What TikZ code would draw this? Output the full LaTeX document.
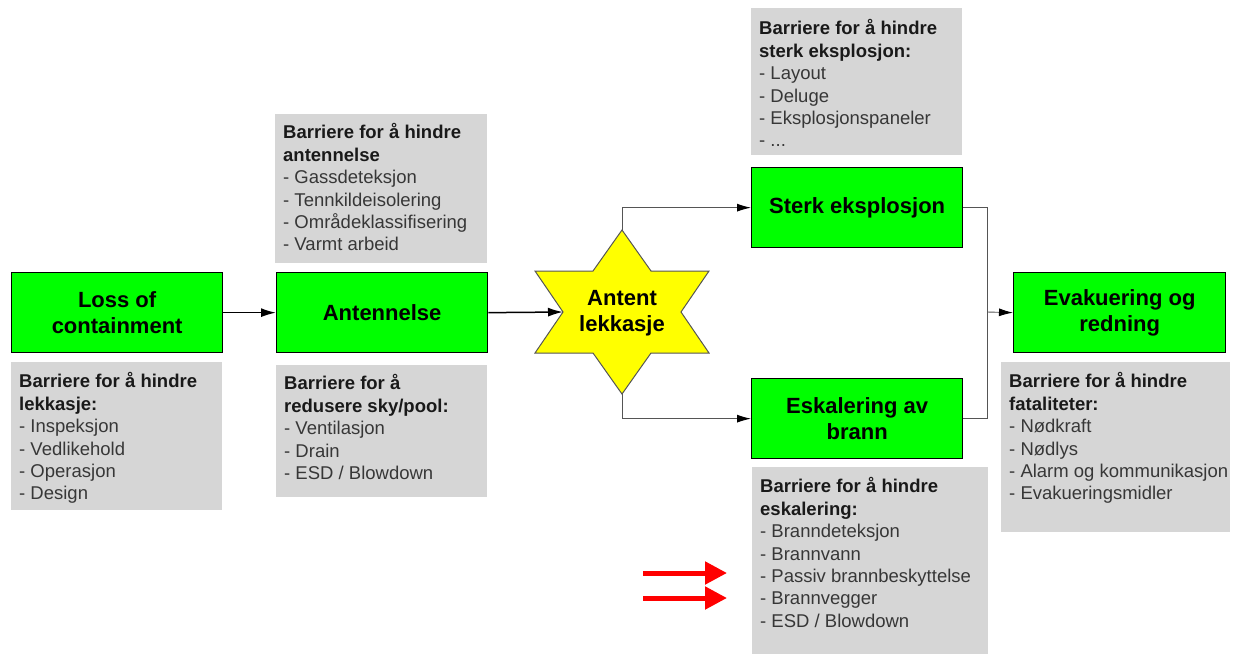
\documentclass[tikz,border=0pt]{standalone}
\usepackage{fontspec}
\setmainfont{Liberation Sans}
\usetikzlibrary{arrows.meta}
\definecolor{boxgreen}{RGB}{0,255,0}
\definecolor{barriergray}{RGB}{214,214,214}
\definecolor{staryellow}{RGB}{255,255,0}
\definecolor{itemgray}{RGB}{55,55,55}
\definecolor{headgray}{RGB}{25,25,25}
\definecolor{linkgray}{RGB}{85,85,85}
\definecolor{alertred}{RGB}{255,0,0}

\begin{document}
\begin{tikzpicture}[x=1pt,y=-1pt,
  event/.style={draw=black, line width=1.3pt, fill=boxgreen,
    minimum width=211pt, minimum height=80pt, inner sep=0pt,
    align=center, font=\fontsize{22}{26}\selectfont\bfseries, anchor=north west},
  barrier/.style={fill=barriergray, inner sep=0pt, anchor=north west},
  barriertext/.style={anchor=north west, inner sep=0pt, align=left,
    font=\fontsize{18.5}{22.4}\selectfont, text=itemgray},
  startext/.style={align=center, inner sep=0pt,
    font=\fontsize{22}{26}\selectfont\bfseries},
  flow/.style={line width=1.5pt, -{Latex[length=15pt,width=9pt]}},
  branch/.style={draw=linkgray, line width=0.9pt,
    -{Latex[length=14pt,width=8pt,color=black]}},
  link/.style={draw=linkgray, line width=0.9pt},
  alert/.style={draw=alertred, line width=5pt,
    -{Triangle[length=22pt,width=22pt]}}
]
\useasboundingbox (0,0) rectangle (1233,654);

% ---- event boxes ----
\node[event] (loss)  at (11,272)   {Loss of\\containment};
\node[event] (ant)   at (276,272)  {Antennelse};
\node[event] (sterk) at (751,167)  {Sterk eksplosjon};
\node[event] (esk)   at (751,378)  {Eskalering av\\brann};
\node[event, minimum width=212pt] (evak) at (1013,272) {Evakuering og\\redning};

% ---- ignited leak (six-pointed star) ----
\draw[fill=staryellow, draw=linkgray, line width=1pt]
  (622,230) -- (651,271) -- (709,271) -- (681,312) -- (709,353) -- (651,353)
  -- (622,394) -- (593,353) -- (535,353) -- (563,312) -- (535,271) -- (593,271)
  -- cycle;
\coordinate (startop)  at (622,230);
\coordinate (starbot)  at (622,394);
\coordinate (starleft) at (563,312);
\node[startext] (star) at (622,313) {Antent\\lekkasje};

% ---- barrier boxes ----
\node[barrier, minimum width=211pt, minimum height=148pt] (lossbar) at (11,362) {};
\node[barriertext] (lossbartext) at (19,372.5)
  {\textcolor{headgray}{\bfseries Barriere for å hindre}\\
   \textcolor{headgray}{\bfseries lekkasje:}\\
   - Inspeksjon\\- Vedlikehold\\- Operasjon\\- Design};

\node[barrier, minimum width=212pt, minimum height=149pt] (antupbar) at (275,114) {};
\node[barriertext] (antupbartext) at (283,123.5)
  {\textcolor{headgray}{\bfseries Barriere for å hindre}\\
   \textcolor{headgray}{\bfseries antennelse}\\
   - Gassdeteksjon\\- Tennkildeisolering\\- Områdeklassifisering\\- Varmt arbeid};

\node[barrier, minimum width=211pt, minimum height=132pt] (antlowbar) at (276,365) {};
\node[barriertext] (antlowbartext) at (284,374.5)
  {\textcolor{headgray}{\bfseries Barriere for å}\\
   \textcolor{headgray}{\bfseries redusere sky/pool:}\\
   - Ventilasjon\\- Drain\\- ESD / Blowdown};

\node[barrier, minimum width=211pt, minimum height=147pt] (sterkbar) at (751,8) {};
\node[barriertext] (sterkbartext) at (759,19.5)
  {\textcolor{headgray}{\bfseries Barriere for å hindre}\\
   \textcolor{headgray}{\bfseries sterk eksplosjon:}\\
   - Layout\\- Deluge\\- Eksplosjonspaneler\\- ...};

\node[barrier, minimum width=236pt, minimum height=187pt] (eskbar) at (752,467) {};
\node[barriertext] (eskbartext) at (760,477.5)
  {\textcolor{headgray}{\bfseries Barriere for å hindre}\\
   \textcolor{headgray}{\bfseries eskalering:}\\
   - Branndeteksjon\\- Brannvann\\- Passiv brannbeskyttelse\\- Brannvegger\\- ESD / Blowdown};

\node[barrier, minimum width=229pt, minimum height=170pt] (evakbar) at (1001,362) {};
\node[barriertext] (evakbartext) at (1009,372.5)
  {\textcolor{headgray}{\bfseries Barriere for å hindre}\\
   \textcolor{headgray}{\bfseries fataliteter:}\\
   - Nødkraft\\- Nødlys\\- Alarm og kommunikasjon\\- Evakueringsmidler};

% ---- connectors ----
\draw[flow] (loss.east) -- (ant.west);
\draw[flow] (ant.east) -- (starleft);
\draw[branch] (startop) |- (sterk.west);
\draw[branch] (starbot) |- (esk.west);
\coordinate (merge) at (987,312);
\draw[link] (sterk.east) -| (merge) |- (esk.east);
\draw[branch] (merge) -- (evak.west);

% ---- highlight arrows ----
\coordinate (redAfrom) at (643,573);
\coordinate (redAto)   at (727,573);
\coordinate (redBfrom) at (643,598);
\coordinate (redBto)   at (727,598);
\draw[alert] (redAfrom) -- (redAto);
\draw[alert] (redBfrom) -- (redBto);
\end{tikzpicture}
\end{document}
